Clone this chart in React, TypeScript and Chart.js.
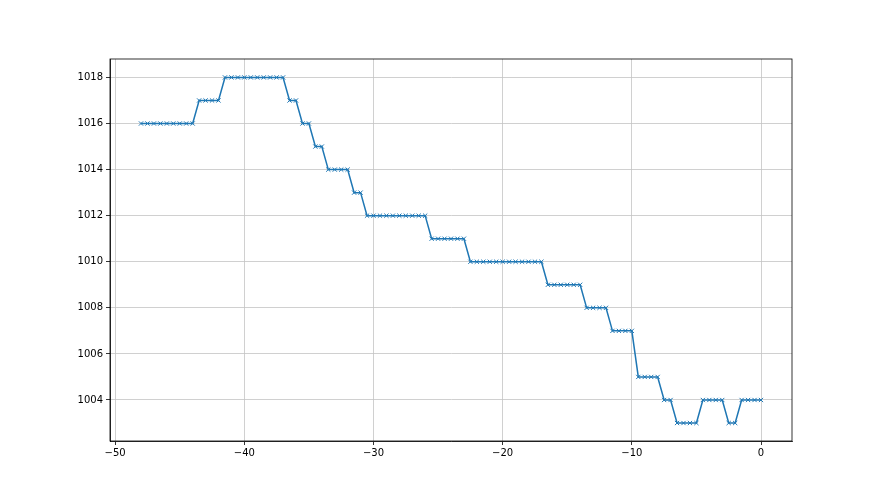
import React, { useEffect, useRef } from "react";
import { Chart, registerables } from "chart.js";

Chart.register(...registerables);

const hours: number[] = [
  -48, -47.5, -47, -46.5, -46, -45.5, -45, -44.5, -44, -43.5, -43, -42.5, -42,
  -41.5, -41, -40.5, -40, -39.5, -39, -38.5, -38, -37.5, -37, -36.5, -36, -35.5,
  -35, -34.5, -34, -33.5, -33, -32.5, -32, -31.5, -31, -30.5, -30, -29.5, -29,
  -28.5, -28, -27.5, -27, -26.5, -26, -25.5, -25, -24.5, -24, -23.5, -23, -22.5,
  -22, -21.5, -21, -20.5, -20, -19.5, -19, -18.5, -18, -17.5, -17, -16.5, -16,
  -15.5, -15, -14.5, -14, -13.5, -13, -12.5, -12, -11.5, -11, -10.5, -10, -9.5,
  -9, -8.5, -8, -7.5, -7, -6.5, -6, -5.5, -5, -4.5, -4, -3.5, -3, -2.5, -2, -1.5,
  -1, -0.5, 0,
];

const pressure: number[] = [
  1016, 1016, 1016, 1016, 1016, 1016, 1016, 1016, 1016,
  1017, 1017, 1017, 1017,
  1018, 1018, 1018, 1018, 1018, 1018, 1018, 1018, 1018, 1018,
  1017, 1017,
  1016, 1016,
  1015, 1015,
  1014, 1014, 1014, 1014,
  1013, 1013,
  1012, 1012, 1012, 1012, 1012, 1012, 1012, 1012, 1012, 1012,
  1011, 1011, 1011, 1011, 1011, 1011,
  1010, 1010, 1010, 1010, 1010, 1010, 1010, 1010, 1010, 1010, 1010, 1010,
  1009, 1009, 1009, 1009, 1009, 1009,
  1008, 1008, 1008, 1008,
  1007, 1007, 1007, 1007,
  1005, 1005, 1005, 1005,
  1004, 1004,
  1003, 1003, 1003, 1003,
  1004, 1004, 1004, 1004,
  1003, 1003,
  1004, 1004, 1004, 1004,
];

const xTicks: number[] = [-50, -40, -30, -20, -10, 0];
const yTicks: number[] = [1004, 1006, 1008, 1010, 1012, 1014, 1016, 1018];

const FONT = { family: "'DejaVu Sans', sans-serif", size: 10 };

const spinesPlugin = {
  id: "spines",
  afterDraw(chart: any) {
    const { ctx, chartArea } = chart;
    ctx.save();
    ctx.strokeStyle = "#000";
    ctx.lineWidth = 0.8;
    ctx.strokeRect(
      chartArea.left,
      chartArea.top,
      chartArea.right - chartArea.left,
      chartArea.bottom - chartArea.top
    );
    ctx.restore();
  },
};

export default function App() {
  const ref = useRef<HTMLCanvasElement | null>(null);
  useEffect(() => {
    if (!ref.current) return;
    const chart = new Chart(ref.current, {
      type: "line",
      data: {
        datasets: [
          {
            data: hours.map((h, i) => ({ x: h, y: pressure[i] })),
            borderColor: "#1f77b4",
            backgroundColor: "#1f77b4",
            borderWidth: 1.5,
            pointStyle: "crossRot",
            pointRadius: 3,
            pointBorderWidth: 1,
            pointBorderColor: "#1f77b4",
            tension: 0,
            fill: false,
          },
        ],
      },
      options: {
        animation: false,
        responsive: false,
        maintainAspectRatio: false,
        layout: { padding: { left: 0, right: 88, top: 59, bottom: 0 } },
        plugins: { legend: { display: false }, tooltip: { enabled: false } },
        scales: {
          x: {
            type: "linear",
            min: -50.4,
            max: 2.4,
            afterBuildTicks: (s: any) => {
              s.ticks = xTicks.map((v) => ({ value: v }));
            },
            afterFit: (s: any) => {
              s.height = 54;
            },
            ticks: {
              color: "#000",
              font: FONT,
              padding: 2,
              maxRotation: 0,
              callback: (v: any) => String(v).replace("-", "\u2212"),
            },
            grid: {
              color: "#c4c4c4",
              lineWidth: 0.8,
              tickColor: "#000",
              tickLength: 4,
            },
            border: { display: true, color: "#000", width: 0.8 },
          },
          y: {
            type: "linear",
            min: 1002.22,
            max: 1018.8,
            afterBuildTicks: (s: any) => {
              s.ticks = yTicks.map((v) => ({ value: v }));
            },
            afterFit: (s: any) => {
              s.width = 110;
            },
            ticks: {
              color: "#000",
              font: FONT,
              padding: 3,
              callback: (v: any) => String(v),
            },
            grid: {
              color: "#c4c4c4",
              lineWidth: 0.8,
              tickColor: "#000",
              tickLength: 4,
            },
            border: { display: true, color: "#000", width: 0.8 },
          },
        },
      },
      plugins: [spinesPlugin],
    });
    return () => chart.destroy();
  }, []);
  return (
    <div style={{ position: "fixed", left: 0, top: 0, width: 880, height: 495, background: "#fff" }}>
      <canvas ref={ref} width={880} height={495} style={{ width: 880, height: 495 }} />
    </div>
  );
}
